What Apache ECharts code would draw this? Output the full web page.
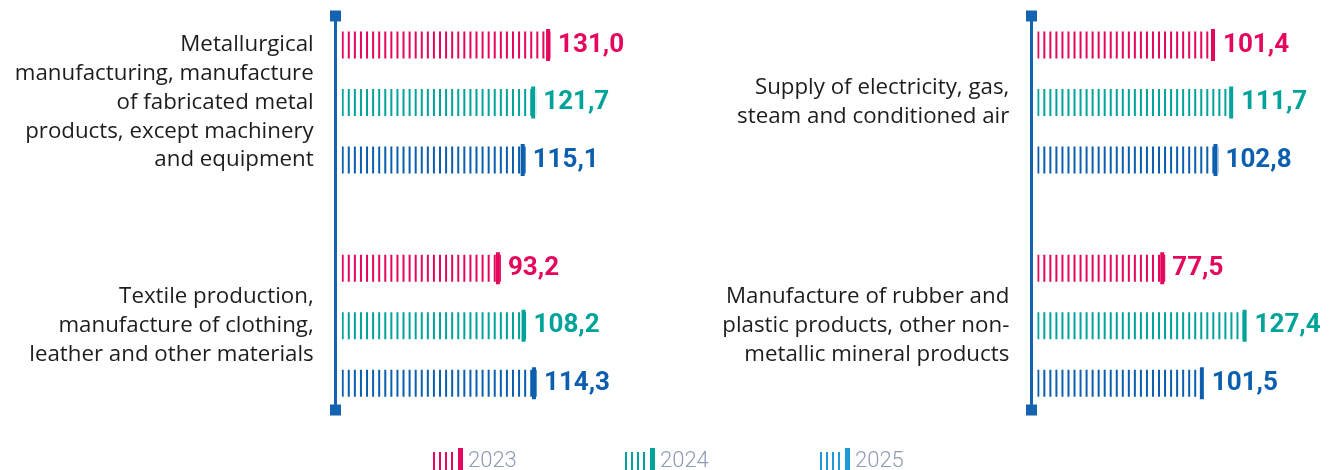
<!DOCTYPE html>
<html>
<head>
<meta charset="utf-8">
<script src="https://cdn.jsdelivr.net/npm/echarts@6/dist/echarts.min.js"></script>
<style>
html,body{margin:0;padding:0;background:#fff;}
#chart{width:1329px;height:470px;}
</style>
</head>
<body>
<div id="chart"></div>
<script>
// ---- data ----
const groupLabels = [
  'Metallurgical\nmanufacturing, manufacture\nof fabricated metal\nproducts, except machinery\nand equipment',
  'Textile production,\nmanufacture of clothing,\nleather and other materials',
  'Supply of electricity, gas,\nsteam and conditioned air',
  'Manufacture of rubber and\nplastic products, other non-\nmetallic mineral products'
];
const years = ['2023', '2024', '2025'];
const values2023 = [131.0, 93.2, 101.4, 77.5];
const values2024 = [121.7, 108.2, 111.7, 127.4];
const values2025 = [115.1, 114.3, 102.8, 101.5];

// ---- layout / style ----
const seriesValues = [values2023, values2024, values2025];
const barColors = ['#E5065D', '#00A39A', '#0B5FAE'];
const legendColors = ['#E5065D', '#00A39A', '#1E9AD6'];
const gridLeft = [341.7, 341.7, 1037.3, 1037.3];
const gridTop = [16.25, 239.5, 16.25, 239.5];
const gridHeight = 172.5;
const gridWidth = 300;
const axisMax = [187.7, 175.6, 165.5, 176.7];
const panelAxisLeft = [335.5, 1031.5];

const fmt = v => v.toFixed(1).replace('.', ',');

const grid = [], xAxis = [], yAxis = [], series = [];
for (let g = 0; g < 4; g++) {
  grid.push({left: gridLeft[g], top: gridTop[g], width: gridWidth, height: gridHeight});
  xAxis.push({type: 'value', gridIndex: g, min: 0, max: axisMax[g], show: false});
  yAxis.push({
    type: 'category', gridIndex: g, data: years, inverse: true,
    axisLine: {show: false}, axisTick: {show: false}, axisLabel: {show: false},
    name: groupLabels[g], nameLocation: 'middle', nameRotate: 0, nameGap: 28,
    nameTextStyle: {
      align: 'right', verticalAlign: 'middle', fontFamily: 'Open Sans',
      fontSize: 22.3, lineHeight: 28.75, color: '#1d1d1f', padding: [9, 0, 0, 0]
    }
  });
  for (let s = 0; s < 3; s++) {
    const data = years.map((y, i) => (i === s ? seriesValues[s][g] : '-'));
    series.push({
      name: years[s], type: 'pictorialBar', xAxisIndex: g, yAxisIndex: g,
      symbol: 'rect', symbolSize: [2, 27], symbolRepeat: true, symbolMargin: 2.05,
      symbolClip: true,
      barGap: '-100%', barCategoryGap: '20%',
      itemStyle: {color: barColors[s]}, z: 2, silent: true,
      data: data
    });
    series.push({
      name: years[s], type: 'pictorialBar', xAxisIndex: g, yAxisIndex: g,
      symbol: 'rect', symbolSize: [4, 32], symbolPosition: 'end', symbolOffset: ['-25%', 0],
      barGap: '-100%', barCategoryGap: '20%',
      itemStyle: {color: barColors[s]}, z: 3, silent: true,
      label: {
        show: true, position: 'right', distance: 7, formatter: p => fmt(p.value),
        fontFamily: 'Roboto', fontWeight: 'bold', fontSize: 26, color: barColors[s]
      },
      data: data
    });
  }
}
// panel axis lines with square ends
for (let p = 0; p < 2; p++) {
  const gi = 4 + p;
  grid.push({left: panelAxisLeft[p], top: 16, width: 10, height: 394});
  xAxis.push({type: 'value', gridIndex: gi, show: false});
  yAxis.push({
    type: 'value', gridIndex: gi, min: 0, max: 1,
    axisLine: {show: true, onZero: false, symbol: ['rect', 'rect'], symbolSize: [11, 11],
      lineStyle: {color: '#1562B0', width: 3}},
    axisTick: {show: false}, axisLabel: {show: false}, splitLine: {show: false}
  });
}

const legendLeft = [428, 620, 815];
const legendIcon = 'path://M0,4h2v22h-2z M6,4h2v22h-2z M12,4h2v22h-2z M18,4h2v22h-2z M25,0h5v26h-5z';
const legend = years.map((y, i) => ({
  left: legendLeft[i], top: 443, selectedMode: false,
  itemWidth: 30, itemHeight: 26, icon: legendIcon,
  data: [{name: y, itemStyle: {color: legendColors[i]}}],
  textStyle: {fontFamily: 'Roboto', fontWeight: 300, fontSize: 22, color: '#8D9BB5', padding: [6, 0, 0, 0]}
}));

const chart = echarts.init(document.getElementById('chart'));
chart.setOption({
  animation: false,
  backgroundColor: '#ffffff',
  grid, xAxis, yAxis, series, legend
});
</script>
</body>
</html>
